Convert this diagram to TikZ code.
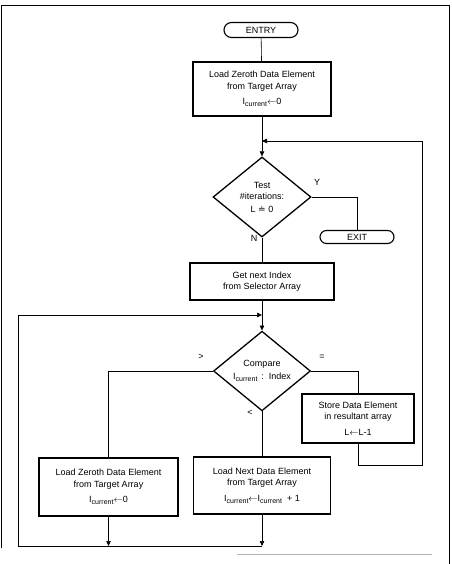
\documentclass[tikz,border=0pt]{standalone}
\usepackage{fontspec}
\setmainfont{Liberation Sans}
\newfontfamily\symfont{DejaVu Sans}
\usetikzlibrary{calc, positioning}
\usetikzlibrary{arrows.meta}
\usetikzlibrary{shapes.geometric, shapes.misc}

\newcommand{\Icur}{I\raisebox{-2.2pt}{\fontsize{7}{7}\selectfont current}}

\begin{document}
\begin{tikzpicture}[x=1pt, y=-1pt,
  font=\fontsize{9}{11.5}\selectfont,
  box/.style={draw, line width=1.3pt, align=center, inner sep=0pt},
  term/.style={draw, rounded rectangle, line width=1.1pt, minimum width=74pt,
    minimum height=15pt, inner sep=0pt},
  decision/.style={draw, diamond, line width=1.3pt, align=center, inner sep=0pt},
  flow/.style={line width=0.6pt},
  tip/.style={-{Triangle[length=5pt, width=4.5pt]}}
]
\useasboundingbox (0,0) rectangle (451,564);

% page frame
\draw[line width=0.8pt] (1.5,548) -- (1.5,5) -- (449,5) -- (449,564);
\draw[gray!60, line width=0.8pt] (237,554) -- (432,554);

\coordinate (back) at (262,141);
\coordinate (rloop) at (422,465);
\coordinate (loopin) at (262,315);
\coordinate (botR) at (262,546);
\coordinate (botL) at (18,546);

\node[term] (entry) at (261,30) {ENTRY};
\node[box, minimum width=138pt, minimum height=54pt] (loadzero) at (262,89)
  {Load Zeroth Data Element\\ from Target Array\\[4pt] \Icur$\leftarrow$0};
\node[decision, minimum width=98pt, minimum height=80pt] (test) at (262,197)
  {Test\\ \#iterations:\\[1pt] L {\symfont ≐} 0};
\node[term, minimum height=13pt] (exit) at (357,237) {EXIT};
\node[box, minimum width=144pt, minimum height=37pt] (getidx) at (262,281.5)
  {Get next Index\\ from Selector Array};
\node[decision, minimum width=97pt, minimum height=78pt] (compare) at (262,371)
  {Compare\\[2pt] \Icur\ \,:\, Index};
\node[box, minimum width=112pt, minimum height=49pt] (store) at (358,418.5)
  {Store Data Element\\ in resultant array\\[4pt] L$\leftarrow$L-1};
\node[box, minimum width=139pt, minimum height=58pt] (loadzeroB) at (108.5,487)
  {Load Zeroth Data Element\\ from Target Array\\[4pt] \Icur$\leftarrow$0};
\node[box, minimum width=137pt, minimum height=57pt] (loadnext) at (262,485.5)
  {Load Next Data Element\\ from Target Array\\[4pt] \Icur$\leftarrow$\Icur\ \ + 1};

\draw[flow] (entry) -- (loadzero);
\draw[flow, tip] (loadzero.south) -- (test.north);
\draw[flow] (test.east) -| (exit.north);
\draw[flow] (test.south) -- (getidx.north);
\draw[flow, tip] (getidx.south) -- (compare.north);
\draw[flow] (compare.west) -| (loadzeroB.north);
\draw[flow] (compare.east) -| (store.north);
\draw[flow] (compare.south) -- (loadnext.north);
\draw[flow, tip] (store.south) |- (rloop) |- (back);
\draw[flow, tip] (loadzeroB.south) -- (loadzeroB.south |- botR);
\draw[flow, tip] (loadnext.south) -- (botR);
\draw[flow, tip] (botR) -- (botL) |- (loopin);

\node (lblY) at (317,182) {Y};
\node (lblN) at (254,238) {N};
\node (lblgt) at (201,357) {>};
\node (lbleq) at (322,357) {=};
\node (lbllt) at (250,413) {<};
\end{tikzpicture}
\end{document}
